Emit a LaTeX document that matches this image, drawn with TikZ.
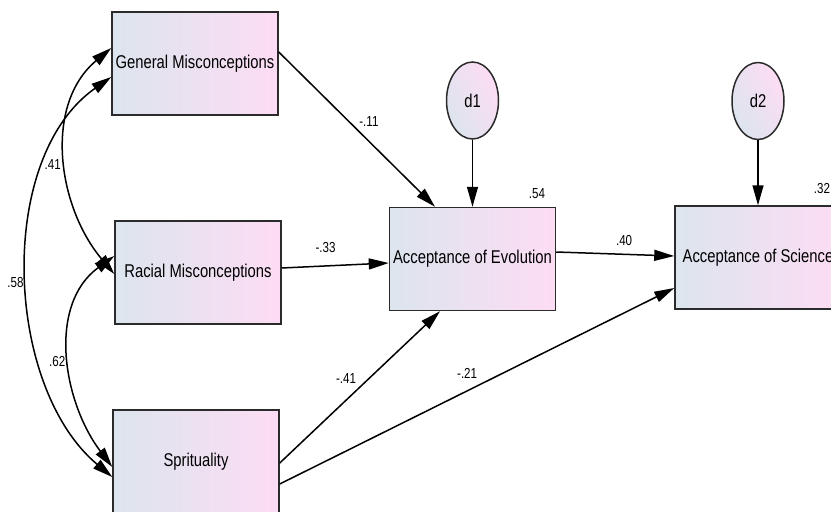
\documentclass[tikz,border=0pt]{standalone}
\usepackage{xcolor}
\usepackage{fontspec}
\usepackage{tikz}
\usetikzlibrary{arrows.meta,positioning,shapes.geometric}

\newfontfamily\amosfont{Liberation Sans}[FakeStretch=0.8]
\newcommand{\boxfont}{\amosfont\fontsize{18.5}{21}\selectfont}
\newcommand{\lblfont}{\amosfont\fontsize{14.5}{16}\selectfont}

\definecolor{boxblue}{HTML}{DCE5EE}
\definecolor{boxpink}{HTML}{FDDCF4}
\definecolor{boxline}{HTML}{2B2B2B}

\begin{document}
\begin{tikzpicture}[
	x=1pt, y=-1pt,
	->,
	>={Triangle[length=20pt,width=11pt]},
	line width=1.5pt,
	auto,
	box/.style={rectangle, draw=boxline, line width=1.5pt,
		minimum width=166pt, minimum height=103pt,
		left color=boxblue, right color=boxpink, font=\boxfont},
	err/.style={ellipse, draw=boxline, line width=1.5pt,
		minimum width=52pt, minimum height=77pt, inner sep=0pt,
		left color=boxblue, right color=boxpink, shading angle=120, font=\boxfont},
	lbl/.style={font=\lblfont, inner sep=1pt, text=black}
  ]

  \path[use as bounding box, clip] (0,0) rectangle (831,512);

  % observed variables
  \node[box] (gm) at (195,63.5) 		{General Misconceptions};
  \node[box] (rm) at (198,272.5) 		{Racial Misconceptions};
  \node[box] (sp) at (196,461.5) 		{Sprituality};
  \node[box] (ae) at (472.5,259) 		{Acceptance of Evolution};
  \node[box] (as) at (758,257.5) 		{Acceptance of Science};

  % disturbances
  \node[err] (d1) [above=67pt of ae] 	{d1};
  \node[err] (d2) [above=65pt of as] 	{d2};

  % squared multiple correlations
  \node[lbl] (r1) at (537,194) {.54};
  \node[lbl] (r2) at (822,189) {.32};

  % regression paths
  \path ([yshift=11.5pt]gm.east) 	edge node[lbl, pos=.5, above right=1pt, anchor=south west] {-.11} ([xshift=-37.5pt]ae.north)
        ([yshift=4.5pt]rm.east) 	edge node[lbl, pos=.41, above=12pt] {-.33} ([yshift=-4pt]ae.west)
        ([yshift=-1.5pt]sp.east) 	edge node[lbl, pos=.5, above left=3pt] {-.41} ([xshift=-32.5pt]ae.south)
        ([yshift=-22.5pt]sp.east) 	edge node[lbl, pos=.475, above=11pt] {-.21} ([yshift=-30.5pt]as.west)
        ([yshift=7pt]ae.east) 		edge node[lbl, pos=.575, above=7pt] {.40} ([yshift=1.5pt]as.west)
        (d1) 				edge (ae)
        (d2) 				edge (as);

  % covariances
  \path ([yshift=15.5pt]gm.west) 	edge [<->, out=220, in=130] node[lbl, pos=.53, left=4pt] {.41} ([yshift=-1.5pt]rm.west)
        ([yshift=-13.5pt]gm.west) 	edge [<->, out=215, in=140, looseness=.9] node[lbl, pos=.52, left=3pt] {.58} ([yshift=-15.5pt]sp.west)
        ([yshift=16.5pt]rm.west) 	edge [<->, out=216, in=127] node[lbl, pos=.53, left=3pt] {.62} ([yshift=-5.5pt]sp.west);

\end{tikzpicture}
\end{document}
